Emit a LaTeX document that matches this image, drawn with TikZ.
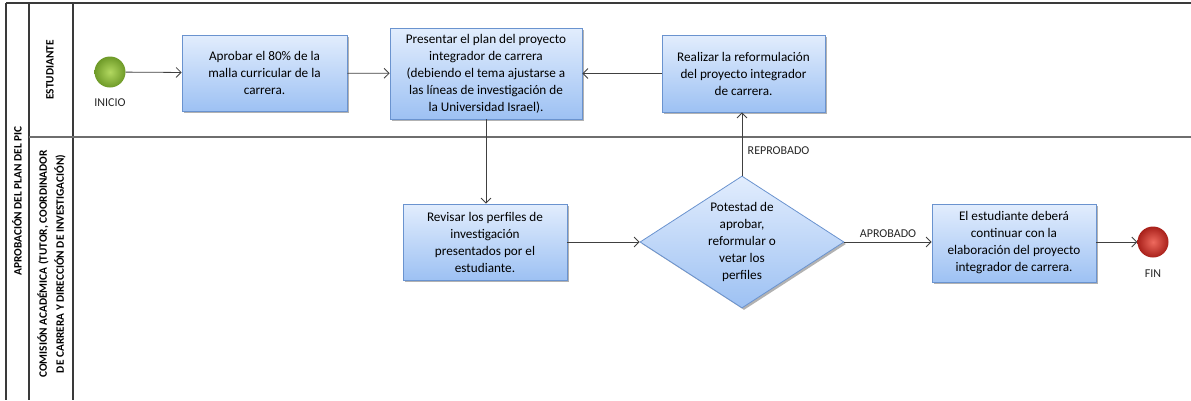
\documentclass[tikz,border=0pt]{standalone}
\usepackage{fontspec}
\setmainfont{Carlito}
\usetikzlibrary{arrows.meta,shapes.geometric,shadows}
\definecolor{boxtop}{HTML}{E2EDFD}
\definecolor{boxbot}{HTML}{9DC1F3}
\definecolor{boxline}{HTML}{6A93CF}
\definecolor{frameline}{HTML}{3A3A3A}
\definecolor{laneline}{HTML}{6E6E6E}
\definecolor{greenin}{HTML}{B2D860}
\definecolor{greenout}{HTML}{6E9A28}
\definecolor{redin}{HTML}{EE6A5E}
\definecolor{redout}{HTML}{A8201A}
\definecolor{conn}{HTML}{404040}
\begin{document}
\begin{tikzpicture}[x=1pt,y=-1pt,
  box/.style={draw=boxline, line width=0.8pt, top color=boxtop, bottom color=boxbot,
    align=center, inner sep=2pt, font=\fontsize{13.2}{17}\selectfont,
    drop shadow={shadow xshift=2pt, shadow yshift=-2pt, opacity=0.3, fill=black}},
  decision/.style={diamond, draw=boxline, line width=0.8pt, top color=boxtop, bottom color=boxbot,
    align=center, inner sep=0pt, aspect=1.55, minimum width=204pt, minimum height=132pt,
    font=\fontsize{13.2}{17}\selectfont,
    drop shadow={shadow xshift=2pt, shadow yshift=-2pt, opacity=0.3, fill=black}},
  terminal/.style={circle, minimum size=31pt, inner sep=0pt},
  lbl/.style={font=\fontsize{12}{14}\selectfont, text=black!85},
  lanetitle/.style={rotate=90, align=center, font=\bfseries\fontsize{11.3}{17}\selectfont},
  arr/.style={draw=conn, line width=0.8pt, -{Straight Barb[length=5pt,width=10pt]}}
]
\useasboundingbox (0,0) rectangle (1191,400);
% frame
\draw[frameline, line width=1.2pt] (6,3) -- (1191,3);
\draw[frameline, line width=1.2pt] (6,3) -- (6,400);
\draw[frameline, line width=1.2pt] (29,3) -- (29,400);
\draw[frameline, line width=1.2pt] (73,3) -- (73,400);
\draw[laneline, line width=1.5pt] (29,137) -- (1191,137);
% lane titles
\node[lanetitle] (pool) at (17,201) {APROBACIÓN DEL PLAN DEL PIC};
\node[lanetitle] (lane1) at (50,70) {ESTUDIANTE};
\node[lanetitle] (lane2) at (51.5,264) {COMISIÓN ACADÉMICA (TUTOR, COORDINADOR\\DE CARRERA Y DIRECCIÓN DE INVESTIGACIÓN)};
% nodes
\node[terminal, inner color=greenin, outer color=greenout] (ini) at (110,72) {};
\node[lbl] (inilbl) at (110,103) {INICIO};
\node[box, minimum width=165pt, minimum height=76pt] (b1) at (264.5,73) {Aprobar el 80\% de la\\malla curricular de la\\carrera.};
\node[box, minimum width=192pt, minimum height=91pt] (b2) at (486,73.5) {Presentar el plan del proyecto\\integrador de carrera\\(debiendo el tema ajustarse a\\las líneas de investigación de\\la Universidad Israel).};
\node[box, minimum width=163pt, minimum height=77pt] (b3) at (743.5,73.5) {Realizar la reformulación\\del proyecto integrador\\de carrera.};
\node[box, minimum width=164pt, minimum height=76pt] (b4) at (485,242) {Revisar los perfiles de\\investigación\\presentados por el\\estudiante.};
\node[decision] (dia) at (742,242) {Potestad de\\aprobar,\\reformular o\\vetar los\\perfiles};
\node[box, minimum width=164pt, minimum height=78pt] (b5) at (1014,243) {El estudiante deberá\\continuar con la\\elaboración del proyecto\\integrador de carrera.};
\node[terminal, inner color=redin, outer color=redout] (fin) at (1153,242) {};
\node[lbl] (finlbl) at (1153,274) {FIN};
% connectors
\draw[arr] (ini) -- (b1);
\draw[arr] (b1) -- (b2);
\draw[arr] (b3) -- (b2);
\draw[arr] (b2.south) -- (b2.south |- b4.north);
\draw[arr] (b4) -- (dia.west);
\draw[arr] (dia.north) -- (dia.north |- b3.south) node[lbl, pos=0.4, anchor=west, xshift=2pt] (rep) {REPROBADO};
\draw[arr] (dia.east) -- (b5.west |- dia.east) node[lbl, midway, above, yshift=1pt] (apr) {APROBADO};
\draw[arr] (b5.east |- fin) -- (fin);
\end{tikzpicture}
\end{document}
